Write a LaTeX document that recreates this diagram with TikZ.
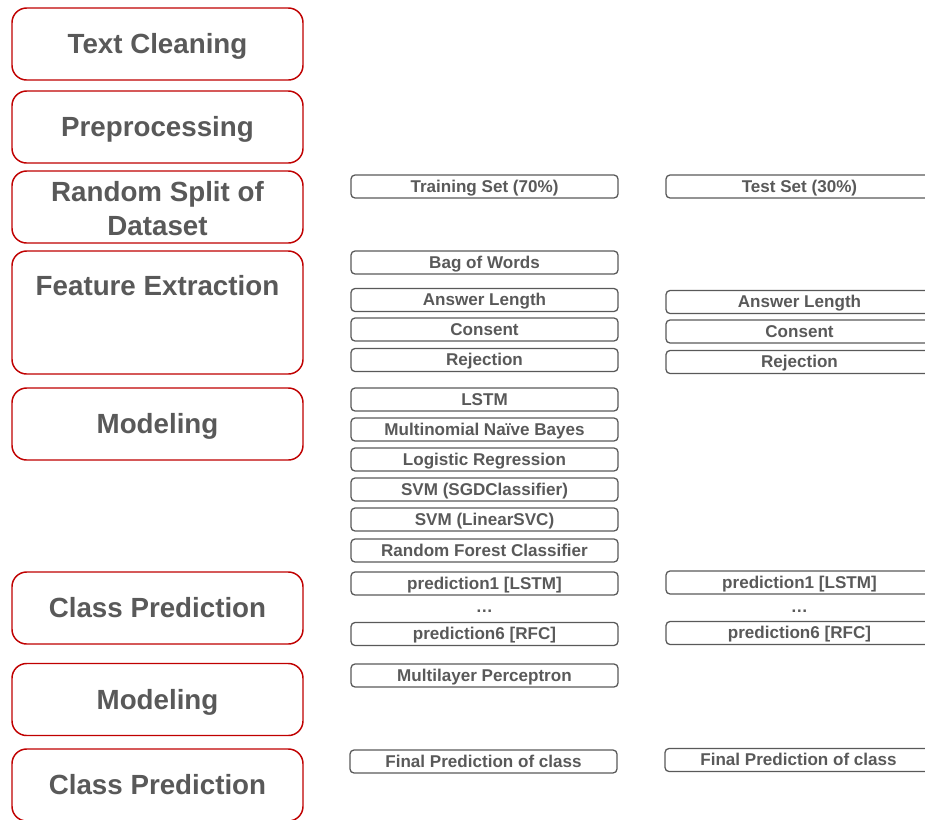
\documentclass[tikz,border=0pt]{standalone}
\usepackage{fontspec}
\setmainfont{Liberation Sans}
\definecolor{txtgray}{HTML}{595959}
\definecolor{stepred}{HTML}{C00000}
\begin{document}
\begin{tikzpicture}[x=0.75pt,y=-0.75pt,
  stage/.style={draw=stepred, line width=1.1pt, rounded corners=11pt, fill=white,
    minimum width=218.25pt, minimum height=54pt, inner sep=0pt,
    text height=14.3pt, text depth=0pt,
    text=txtgray, font=\fontsize{20.8}{25.5}\selectfont\bfseries, align=center},
  item/.style={draw=txtgray, line width=0.95pt, rounded corners=3pt,
    minimum width=200.25pt, minimum height=17.25pt, inner sep=0pt,
    text height=8.8pt, text depth=0pt,
    text=txtgray, font=\fontsize{12.8}{14}\selectfont\bfseries},
  dots/.style={text=txtgray, font=\fontsize{12.8}{14}\selectfont\bfseries, inner sep=0pt,
    text height=1.7pt, text depth=0pt}]
\useasboundingbox (0,0) rectangle (925,819);
\clip (0,0) rectangle (925,819);
% left stages
\node[stage] (s1) at (157.5,44) {Text Cleaning};
\node[stage] (s2) at (157.5,127) {Preprocessing};
\node[stage] (s3) at (157.5,207) {};
\node[text=txtgray, text height=39.8pt, text depth=0pt, inner sep=0pt, align=center,
  font=\fontsize{20.8}{25.5}\selectfont\bfseries] (s3t) at (157.5,208.5) {Random Split of\\Dataset};
\node[stage, minimum height=92.25pt] (s4) at (157.5,312.5) {};
\node[text=txtgray, text height=14.3pt, text depth=0pt, inner sep=0pt,
  font=\fontsize{20.8}{25.5}\selectfont\bfseries] (s4t) at (157.5,286) {Feature Extraction};
\node[stage] (s5) at (157.5,424) {Modeling};
\node[stage] (s6) at (157.5,608) {Class Prediction};
\node[stage] (s7) at (157.5,699.5) {Modeling};
\node[stage] (s8) at (157.5,785) {Class Prediction};
% training column
\node[item] (m1) at (484.5,186.5) {Training Set (70\%)};
\node[item] (m2) at (484.5,262.5) {Bag of Words};
\node[item] (m3) at (484.5,300) {Answer Length};
\node[item] (m4) at (484.5,329.5) {Consent};
\node[item] (m5) at (484.5,360) {Rejection};
\node[item] (m6) at (484.5,399.5) {LSTM};
\node[item] (m7) at (484.5,429.5) {Multinomial Naïve Bayes};
\node[item] (m8) at (484.5,459.5) {Logistic Regression};
\node[item] (m9) at (484.5,489.5) {SVM (SGDClassifier)};
\node[item] (m10) at (484.5,519.5) {SVM (LinearSVC)};
\node[item] (m11) at (484.5,550.5) {Random Forest Classifier};
\node[item] (m12) at (484.5,583.5) {prediction1 [LSTM]};
\node[dots] (m13) at (484.5,611) {…};
\node[item] (m14) at (484.5,634) {prediction6 [RFC]};
\node[item] (m15) at (484.5,675.5) {Multilayer Perceptron};
\node[item] (m16) at (483.5,761.5) {Final Prediction of class};
% test column
\node[item] (r1) at (799.5,186.5) {Test Set (30\%)};
\node[item] (r2) at (799.5,302) {Answer Length};
\node[item] (r3) at (799.5,331.5) {Consent};
\node[item] (r4) at (799.5,362) {Rejection};
\node[item] (r5) at (799.5,582.5) {prediction1 [LSTM]};
\node[dots] (r6) at (799.5,611) {…};
\node[item] (r7) at (799.5,633) {prediction6 [RFC]};
\node[item] (r8) at (798.5,760) {Final Prediction of class};
\end{tikzpicture}
\end{document}
